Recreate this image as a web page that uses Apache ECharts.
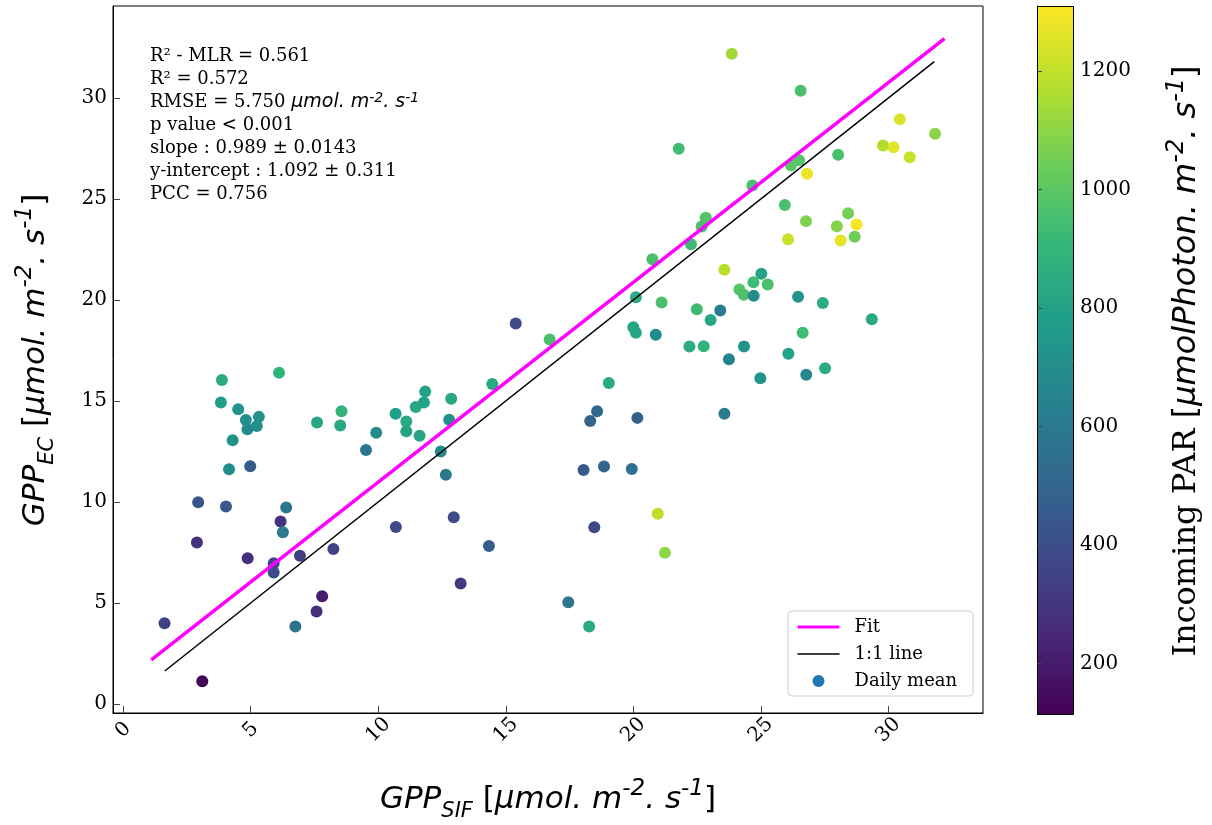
<!DOCTYPE html>
<html>
<head>
<meta charset="utf-8">
<script src="https://cdn.jsdelivr.net/npm/echarts@6/dist/echarts.min.js"></script>
<style>
html,body{margin:0;padding:0;background:#fff;}
#chart{width:1212px;height:825px;}
</style>
</head>
<body>
<div id="chart"></div>
<script>
// ---- data ----
const gppSIF = [3.87,6.11,3.83,4.51,4.81,5.32,4.87,5.24,4.29,4.15,4.98,7.60,8.56,8.51,10.68,11.10,11.10,9.92,9.52,
  2.94,4.03,6.39,6.17,6.26,2.89,4.88,6.93,8.24,5.90,5.90,10.69,1.62,3.10,7.80,7.58,6.75,
  20.75,20.10,21.11,22.49,15.39,16.72,20.00,20.10,20.88,22.20,14.47,19.04,11.84,12.86,11.79,11.47,11.62,12.78,12.45,12.65,
  18.58,18.31,20.16,18.05,18.85,19.94,20.96,21.24,12.96,18.47,14.34,13.23,17.45,18.27,
  23.86,26.56,21.78,30.45,31.83,29.79,30.20,30.84,28.03,26.50,26.18,26.81,24.67,25.94,28.42,26.77,27.98,28.75,26.07,28.13,28.68,22.84,22.68,22.26,
  23.57,25.02,24.71,25.27,24.16,24.33,24.72,26.46,27.43,23.41,23.03,29.35,26.64,22.76,24.34,26.08,23.75,27.52,24.98,26.78,23.57];
const gppEC = [16.04,16.39,14.92,14.59,14.06,14.21,13.60,13.76,13.05,11.62,11.77,13.93,14.49,13.78,14.37,13.98,13.50,13.42,12.57,
  9.98,9.77,9.72,9.03,8.50,7.99,7.21,7.34,7.67,6.96,6.50,8.76,3.99,1.12,5.33,4.57,3.83,
  22.01,20.13,19.87,19.54,18.83,18.04,18.65,18.38,18.28,17.69,15.84,15.89,15.46,15.11,14.92,14.70,13.27,14.07,12.49,11.35,
  14.49,14.01,14.16,11.58,11.75,11.63,9.41,7.48,9.24,8.75,7.82,5.96,5.03,3.83,
  32.19,30.36,27.48,28.94,28.22,27.64,27.56,27.06,27.19,26.92,26.65,26.24,25.66,24.70,24.29,23.90,23.65,23.73,23.00,22.94,23.13,24.07,23.63,22.76,
  21.49,21.30,20.88,20.76,20.51,20.25,20.20,20.16,19.85,19.47,19.01,19.04,18.38,17.71,17.69,17.33,17.06,16.62,16.12,16.29,14.37];
const parIn = [850,890,790,720,710,720,690,710,720,700,460,820,900,830,780,840,810,690,580,
  430,440,580,290,600,290,280,340,360,370,400,390,350,125,200,270,575,
  960,840,960,930,385,960,820,820,700,860,830,840,800,830,800,820,820,720,690,600,
  515,500,480,450,500,560,1190,1100,395,385,470,320,580,850,
  1140,960,940,1250,1100,1170,1260,1210,960,990,1000,1275,960,960,1060,1070,1085,1300,1215,1270,1040,980,960,930,
  1185,810,935,960,985,965,700,730,860,610,820,840,935,890,720,800,650,860,735,665,610];

const fitSlope = 0.989, fitIntercept = 1.092;
const fitRangeX = [1.1, 32.2];
const oneToOneRangeX = [1.63, 31.8];
const xTicks = [0,5,10,15,20,25,30];
const yTicks = [0,5,10,15,20,25,30];
const parTicks = [200,400,600,800,1000,1200];
const parRange = [115, 1310];
const statsLines = ['R² - MLR = 0.561','R² = 0.572','RMSE = 5.750','p value < 0.001','slope : 0.989 ± 0.0143','y-intercept : 1.092 ± 0.311','PCC = 0.756'];

const viridis = ['#440154','#482878','#3e4989','#31688e','#26828e','#1f9e89','#35b779','#6ece58','#b5de2b','#fde725'];

const scatterData = gppSIF.map((x,i)=>[x, gppEC[i], parIn[i]]);
const fitData = fitRangeX.map(x=>[x, fitIntercept + fitSlope*x]);
const oneData = oneToOneRangeX.map(x=>[x, x]);

const serif = 'DejaVu Serif';
const sans = 'DejaVu Sans';

const chart = echarts.init(document.getElementById('chart'), null, {renderer:'canvas'});

function mathRich(size, subSize, supSize, lh){
  return {
    m:{fontFamily:sans,fontStyle:'italic',fontSize:size,lineHeight:lh,color:'#000'},
    b:{fontFamily:sans,fontSize:size,lineHeight:lh,color:'#000'},
    r:{fontFamily:serif,fontSize:size,lineHeight:lh,color:'#000'},
    sub:{fontFamily:sans,fontStyle:'italic',fontSize:subSize,lineHeight:Math.round(lh*0.62),verticalAlign:'bottom',color:'#000'},
    sup:{fontFamily:sans,fontStyle:'italic',fontSize:supSize,lineHeight:Math.round(lh*0.45),verticalAlign:'top',color:'#000'}
  };
}
const unitTail = '{b|[}{m|μmol. m}{sup|-2}{m|. s}{sup|-1}{b|]}';

const statsText = statsLines.map((s,i)=> i===2
  ? '{t|'+s+' }{m|μmol. m}{sup|-2}{m|. s}{sup|-1}'
  : '{t|'+s+'}').join('\n');

const option = {
  backgroundColor:'#fff',
  animation:false,
  grid:[
    {left:113, top:6, width:870, height:707, show:true, borderColor:'#000', borderWidth:1, backgroundColor:'transparent'},
    {left:1037, top:6, width:36, height:708, show:false}
  ],
  xAxis:[
    {gridIndex:0, type:'value', min:-0.4, max:33.71,
     axisLine:{show:true,onZero:false,lineStyle:{color:'#000',width:1}},
     axisTick:{show:true,inside:true,length:7,customValues:xTicks,lineStyle:{color:'#444',width:1}},
     splitLine:{show:false},
     axisLabel:{customValues:xTicks,rotate:45,align:'center',verticalAlign:'middle',margin:17,
       fontFamily:serif,fontSize:20,color:'#000'}
    },
    {gridIndex:1, type:'value', min:0, max:1, show:false}
  ],
  yAxis:[
    {gridIndex:0, type:'value', min:-0.45, max:34.55,
     axisLine:{show:true,onZero:false,lineStyle:{color:'#000',width:1}},
     axisTick:{show:true,inside:true,length:7,customValues:yTicks,lineStyle:{color:'#444',width:1}},
     splitLine:{show:false},
     axisLabel:{customValues:yTicks,margin:6,fontFamily:serif,fontSize:20,color:'#000'}
    },
    {gridIndex:1, type:'value', position:'right', min:parRange[0], max:parRange[1],
     axisLine:{show:true,lineStyle:{color:'#000',width:1}},
     axisTick:{show:true,inside:false,length:5,customValues:parTicks,lineStyle:{color:'#444'}},
     splitLine:{show:false},
     axisLabel:{customValues:parTicks,margin:7,fontFamily:serif,fontSize:20,color:'#000',
       formatter:(v)=>String(v)}
    }
  ],
  visualMap:{type:'continuous', show:false, min:parRange[0], max:parRange[1], dimension:2, seriesIndex:0,
    inRange:{color:viridis}},
  legend:{
    left:788, top:611, orient:'vertical',
    backgroundColor:'#fff', borderColor:'#d0d0d0', borderWidth:1, borderRadius:4,
    padding:[7,16,6,8], itemGap:9, itemWidth:42, itemHeight:12,
    textStyle:{fontFamily:serif,fontSize:18,color:'#000',padding:[0,0,0,10]},
    data:[
      {name:'Fit', itemStyle:{opacity:0}, lineStyle:{width:3}},
      {name:'1:1 line', itemStyle:{opacity:0}, lineStyle:{width:1.5}},
      {name:'Daily mean', icon:'circle', itemStyle:{color:'#1f77b4'}}
    ]
  },
  series:[
    {name:'Daily mean', type:'scatter', xAxisIndex:0, yAxisIndex:0, data:scatterData,
     symbol:'circle', symbolSize:12, itemStyle:{color:'#1f77b4', opacity:1}, z:2},
    {name:'Fit', type:'line', xAxisIndex:0, yAxisIndex:0, data:fitData, symbol:'none',
     lineStyle:{color:'#ff00ff', width:3.5}, itemStyle:{color:'#ff00ff'}, z:4},
    {name:'1:1 line', type:'line', xAxisIndex:0, yAxisIndex:0, data:oneData, symbol:'none',
     lineStyle:{color:'#000', width:1.5}, itemStyle:{color:'#000'}, z:3},
    {name:'cb', type:'scatter', xAxisIndex:1, yAxisIndex:1, data:[]}
  ],
  graphic:[
    {type:'rect', left:1037, top:6, z:-1, silent:true,
     shape:{width:36, height:708},
     style:{fill:new echarts.graphic.LinearGradient(0,1,0,0, viridis.map((c,i)=>({offset:i/(viridis.length-1), color:c}))),
            stroke:'#000', lineWidth:1}},
    {type:'text', left:150, top:45, silent:true,
     style:{text:statsText, lineHeight:23,
       rich:{t:{fontFamily:serif,fontSize:18,lineHeight:23,color:'#000'},
             m:{fontFamily:sans,fontStyle:'italic',fontSize:19,lineHeight:23,color:'#000'},
             sup:{fontFamily:sans,fontStyle:'italic',fontSize:14,lineHeight:13,verticalAlign:'top',color:'#000'}}}},
    {type:'text', x:548, y:800, silent:true,
     style:{text:'{m|GPP}{sub|SIF}{m| }'+unitTail, align:'center', verticalAlign:'middle',
       rich:mathRich(31,21,23,44)}},
    {type:'text', x:36, y:360, rotation:Math.PI/2, silent:true,
     style:{text:'{m|GPP}{sub|EC}{m| }'+unitTail, align:'center', verticalAlign:'middle',
       rich:mathRich(31,21,23,44)}},
    {type:'text', x:1187, y:361, rotation:Math.PI/2, silent:true,
     style:{text:'{r|Incoming PAR }{b|[}{m|μmolPhoton. m}{sup|-2}{m|. s}{sup|-1}{b|]}', align:'center', verticalAlign:'middle',
       rich:mathRich(32,22,24,44)}}
  ]
};
chart.setOption(option);
</script>
</body>
</html>
